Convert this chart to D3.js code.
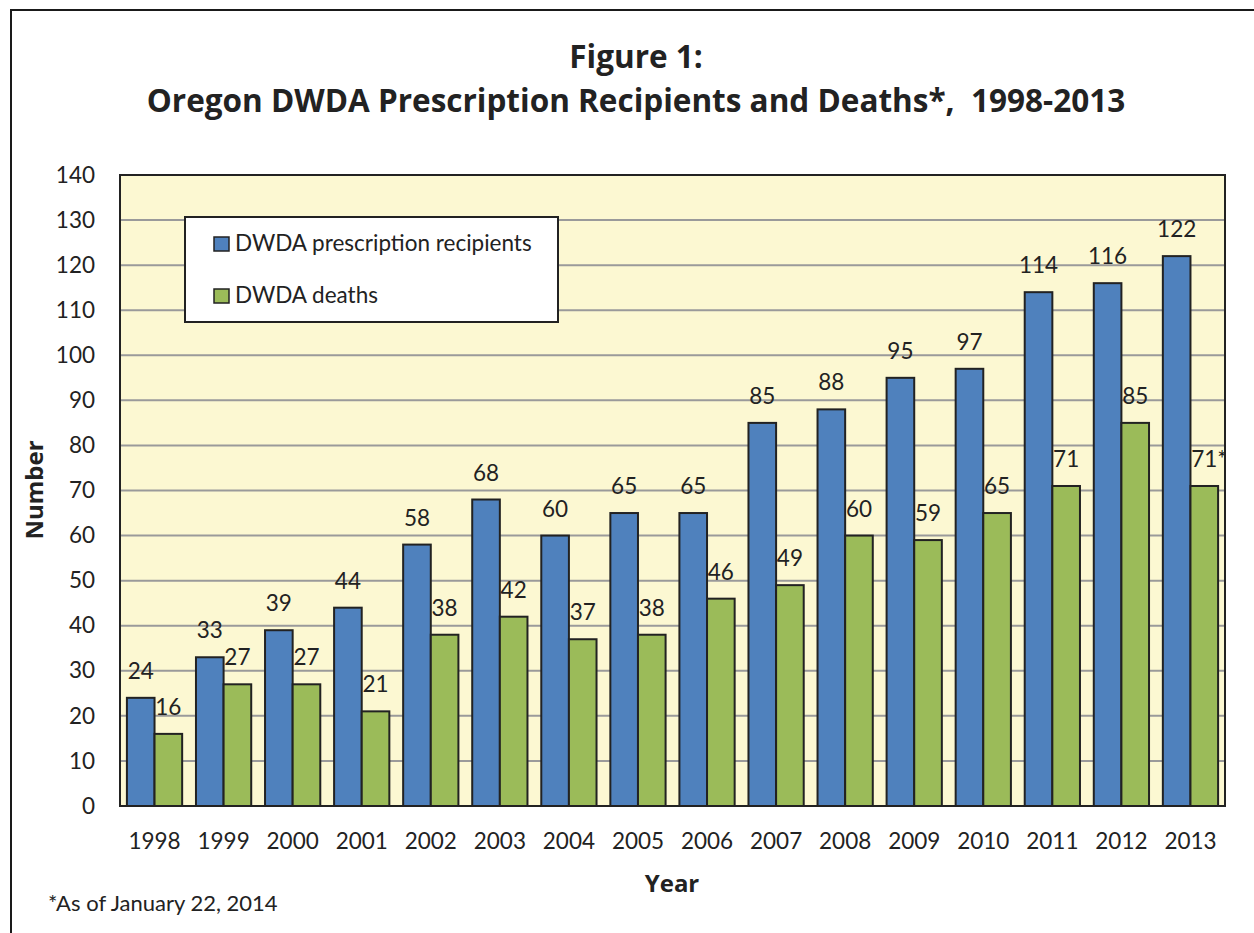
<!DOCTYPE html>
<html><head><meta charset="utf-8">
<script src="https://cdn.jsdelivr.net/npm/d3@7"></script>
<style>body{margin:0;background:#fff}svg{display:block}text{font-family:Lato,"Open Sans",sans-serif;fill:#222}</style>
</head><body><svg id="c" width="1254" height="933"></svg>
<script>
const years = ["1998","1999","2000","2001","2002","2003","2004","2005","2006","2007","2008","2009","2010","2011","2012","2013"];
const recipients = [24,33,39,44,58,68,60,65,65,85,88,95,97,114,116,122];
const deaths = [16,27,27,21,38,42,37,38,46,49,60,59,65,71,85,71];
const deathNotes = ["","","","","","","","","","","","","","","","*"];
const seriesNames = ["DWDA prescription recipients","DWDA deaths"];
const colors = ["#4F81BD","#9BBB59"];
const yTicks = [0,10,20,30,40,50,60,70,80,90,100,110,120,130,140];

const FS = 22.5;
const svg = d3.select("#c");
const m = {l:120, r:1225, t:175, b:806};
svg.append("rect").attr("x",11).attr("y",10).attr("width",1300).attr("height",1000)
  .attr("fill","#fff").attr("stroke","#1a1a1a").attr("stroke-width",2);

const TF = "'Open Sans',Lato,sans-serif";
svg.append("text").attr("x",636).attr("y",68).attr("text-anchor","middle").style("font-family",TF)
  .attr("font-size",31.5).attr("font-weight","bold").text("Figure 1:");
svg.append("text").attr("x",636).attr("y",112).attr("text-anchor","middle").style("font-family",TF)
  .attr("font-size",31.5).attr("font-weight","bold").style("white-space","pre")
  .text("Oregon DWDA Prescription Recipients and Deaths*,  1998-2013");

const x = d3.scaleBand().domain(years).range([m.l,m.r]).paddingInner(0.2).paddingOuter(0.1);
const y = d3.scaleLinear().domain([0,140]).range([m.b,m.t]);
const xs = d3.scaleBand().domain([0,1]).range([0,x.bandwidth()]);

svg.append("rect").attr("x",m.l).attr("y",m.t).attr("width",m.r-m.l).attr("height",m.b-m.t).attr("fill","#FCF8D2");
svg.append("g").selectAll("line").data(yTicks.slice(1,-1)).join("line")
  .attr("x1",m.l).attr("x2",m.r).attr("y1",d=>y(d)).attr("y2",d=>y(d))
  .attr("stroke","#9a9a9a").attr("stroke-width",2);

const series = [recipients, deaths];
const notes = [recipients.map(()=> ""), deathNotes];
series.forEach((vals,si)=>{
  const g = svg.append("g");
  g.selectAll("rect").data(vals).join("rect")
    .attr("x",(d,i)=>x(years[i])+xs(si)).attr("width",xs.bandwidth())
    .attr("y",d=>y(d)).attr("height",d=>y(0)-y(d))
    .attr("fill",colors[si]).attr("stroke","#222").attr("stroke-width",2);
  g.selectAll("text").data(vals).join("text")
    .attr("y",d=>y(d)-19).attr("font-size",FS)
    .text((d,i)=>String(d)+notes[si][i])
    .each(function(d,i){
      const cx = x(years[i])+xs(si)+xs.bandwidth()/2;
      const tmp = svg.append("text").attr("font-size",FS).text(String(d));
      const w = tmp.node().getComputedTextLength(); tmp.remove();
      d3.select(this).attr("x", cx - w/2);
    });
});

svg.append("rect").attr("x",m.l).attr("y",m.t).attr("width",m.r-m.l).attr("height",m.b-m.t)
  .attr("fill","none").attr("stroke","#222").attr("stroke-width",2);

const ya = svg.append("g").attr("transform",`translate(${m.l},0)`)
  .call(d3.axisLeft(y).tickValues(yTicks).tickSize(0).tickPadding(25));
ya.select(".domain").remove();
ya.selectAll("text").attr("font-size",FS).attr("fill","#222").attr("font-family","Lato,'Open Sans',sans-serif");

const xa = svg.append("g").attr("transform",`translate(0,${m.b})`)
  .call(d3.axisBottom(x).tickSize(0).tickPadding(27));
xa.select(".domain").remove();
xa.selectAll("text").attr("font-size",FS).attr("fill","#222").attr("font-family","Lato,'Open Sans',sans-serif");

svg.append("text").attr("x",672).attr("y",892).attr("text-anchor","middle").style("font-family",TF)
  .attr("font-size",24).attr("font-weight","bold").text("Year");
svg.append("text").attr("transform","translate(43,490) rotate(-90)").attr("text-anchor","middle").style("font-family",TF)
  .attr("font-size",24).attr("font-weight","bold").text("Number");
svg.append("text").attr("x",48).attr("y",911).attr("font-size",22).text("*As of January 22, 2014");

const lg = svg.append("g");
lg.append("rect").attr("x",185).attr("y",217).attr("width",373).attr("height",105)
  .attr("fill","#fff").attr("stroke","#222").attr("stroke-width",2);
seriesNames.forEach((n,i)=>{
  const base = 251 + i*52;
  lg.append("rect").attr("x",214).attr("y",base-14).attr("width",15).attr("height",14)
    .attr("fill",colors[i]).attr("stroke","#222").attr("stroke-width",1.5);
  lg.append("text").attr("x",235).attr("y",base).attr("font-size",FS).text(n);
});
</script></body></html>
